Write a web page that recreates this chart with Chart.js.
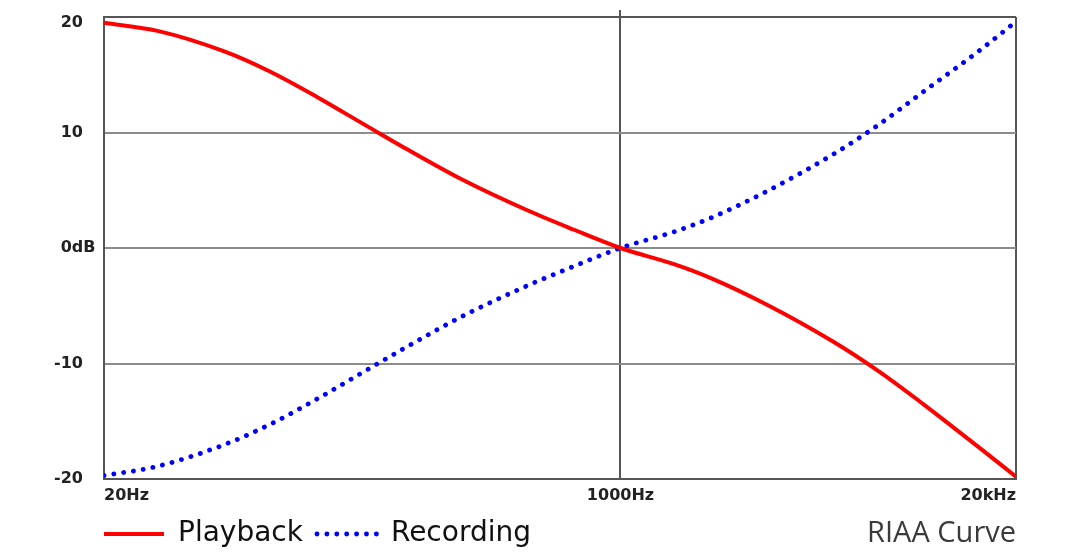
<!DOCTYPE html>
<html>
<head>
<meta charset="utf-8">
<title>RIAA Curve</title>
<script src="https://cdn.jsdelivr.net/npm/chart.js@4.4.0/dist/chart.umd.min.js"></script>
<style>
  html, body { margin: 0; padding: 0; background: #fff; }
  canvas { display: block; }
</style>
</head>
<body>
<canvas id="riaaChart" width="1080" height="558"></canvas>
<script>
// values
const freqs = [20, 30, 50, 70, 100, 150, 200, 300, 500, 700, 1000, 1500, 2000, 3000, 5000, 7000, 10000, 15000, 20000];
const playback = [19.5, 18.8, 17.0, 15.3, 13.1, 10.4, 8.5, 5.95, 3.2, 1.6, 0, -1.4, -2.65, -4.85, -8.1, -10.6, -13.6, -17.2, -19.8];
const recording = [-19.7, -18.9, -17.0, -15.3, -13.1, -10.4, -8.5, -5.95, -3.2, -1.6, 0, 1.4, 2.65, 4.85, 8.1, 10.6, 13.6, 17.0, 19.6];

const xTicks = [20, 1000, 20000];
const xLabels = ["20Hz", "1000Hz", "20kHz"];
const yTicks = [-20, -10, 0, 10, 20];
const yLabels = ["-20", "-10", "0dB", "10", "20"];

const boxColor = "#555";
const gridColor = "#8c8c8c";
const labelFont = 'bold 16px "DejaVu Sans"';
const legendPad = 14;

function toPoints(values) {
  return freqs.map((f, i) => ({ x: f, y: values[i] }));
}

const layoutPlugin = {
  id: "riaaLayout",
  // legend starts under the plot's left edge
  afterLayout(chart) {
    const lg = chart.legend;
    const dx = chart.chartArea.left - legendPad - lg.left;
    lg.left += dx;
    lg.right += dx;
  },
  afterDraw(chart) {
    const ctx = chart.ctx;
    const y = chart.scales.y;
    ctx.save();
    // y tick labels: numbers end at one edge, "0dB" starts where "20" starts
    ctx.font = labelFont;
    ctx.fillStyle = "#222";
    ctx.textBaseline = "middle";
    const right = y.right - 21;
    const numLeft = right - ctx.measureText("20").width;
    yTicks.forEach((v, i) => {
      let py = y.getPixelForValue(v);
      if (v === y.max) py += 6; // top label sits just under the frame
      if (v === 0) {
        ctx.textAlign = "left";
        ctx.fillText(yLabels[i], numLeft, py);
      } else {
        ctx.textAlign = "right";
        ctx.fillText(yLabels[i], right, py);
      }
    });
    // caption at bottom right
    ctx.font = '400 29px "Open Sans"';
    ctx.fillStyle = "#3a3a3a";
    ctx.textAlign = "right";
    ctx.textBaseline = "alphabetic";
    ctx.fillText("RIAA Curve", chart.chartArea.right, 542);
    ctx.restore();
  }
};

const ctx = document.getElementById("riaaChart").getContext("2d");
const riaaChart = new Chart(ctx, {
  type: "line",
  data: {
    datasets: [
      {
        label: "Playback",
        data: toPoints(playback),
        borderColor: "#ff0000",
        backgroundColor: "#ff0000",
        borderWidth: 4,
        borderCapStyle: "butt",
        pointRadius: 0,
        cubicInterpolationMode: "monotone"
      },
      {
        label: "Recording",
        data: toPoints(recording),
        borderColor: "#0000ff",
        backgroundColor: "#0000ff",
        borderWidth: 4.8,
        borderDash: [0.1, 9.8],
        borderCapStyle: "round",
        pointRadius: 0,
        cubicInterpolationMode: "monotone"
      }
    ]
  },
  options: {
    responsive: false,
    animation: false,
    layout: { padding: { top: 10, left: 0, right: 64, bottom: 0 } },
    plugins: {
      tooltip: { enabled: false },
      legend: {
        position: "bottom",
        align: "start",
        labels: {
          usePointStyle: true,
          pointStyle: "line",
          pointStyleWidth: 60,
          padding: legendPad,
          color: "#111",
          font: { family: "DejaVu Sans", size: 28 },
          generateLabels: chart =>
            Chart.defaults.plugins.legend.labels.generateLabels(chart).map((item, i) => {
              const ds = chart.data.datasets[i];
              item.lineDash = ds.borderDash || [];
              item.lineCap = ds.borderCapStyle;
              item.lineWidth = ds.borderWidth;
              return item;
            })
        }
      }
    },
    scales: {
      x: {
        type: "logarithmic",
        position: "bottom",
        min: 20,
        max: 20000,
        afterBuildTicks: s => { s.ticks = xTicks.map(v => ({ value: v })); },
        afterFit: s => { s.height = 27; },
        grid: { color: boxColor, lineWidth: 2, drawTicks: false },
        border: { color: boxColor, width: 2 },
        ticks: {
          align: "inner",
          padding: 7.5,
          color: "#222",
          font: { family: "DejaVu Sans", size: 16, weight: "bold" },
          callback: v => xLabels[xTicks.indexOf(v)]
        }
      },
      xTop: {
        type: "logarithmic",
        position: "top",
        min: 20,
        max: 20000,
        afterBuildTicks: s => { s.ticks = [{ value: 1000 }]; },
        grid: { color: boxColor, lineWidth: 2, drawOnChartArea: false, drawTicks: true, tickLength: 7 },
        border: { display: false },
        ticks: { display: false }
      },
      y: {
        min: -20,
        max: 20,
        afterBuildTicks: s => { s.ticks = yTicks.map(v => ({ value: v })); },
        afterFit: s => { s.width = 104; },
        grid: {
          color: c => (Math.abs(c.tick.value) === 20 ? boxColor : gridColor),
          lineWidth: 2,
          drawTicks: false
        },
        border: { color: boxColor, width: 2 },
        ticks: { display: false }
      }
    }
  },
  plugins: [layoutPlugin]
});
</script>
</body>
</html>
